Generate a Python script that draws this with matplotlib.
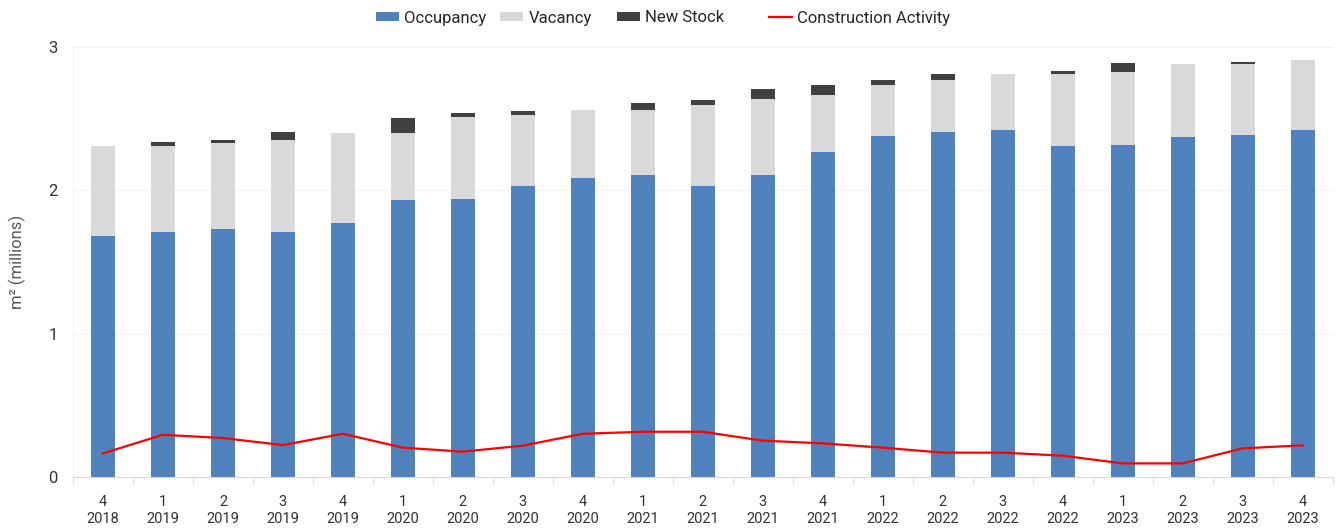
import matplotlib
matplotlib.use("Agg")
import matplotlib.pyplot as plt
from matplotlib.patches import Patch
from matplotlib.lines import Line2D
import numpy as np

quarters = ["4", "1", "2", "3", "4", "1", "2", "3", "4", "1", "2", "3", "4",
            "1", "2", "3", "4", "1", "2", "3", "4"]
years = ["2018", "2019", "2019", "2019", "2019", "2020", "2020", "2020", "2020",
         "2021", "2021", "2021", "2021", "2022", "2022", "2022", "2022",
         "2023", "2023", "2023", "2023"]
occupancy = [1.68, 1.71, 1.73, 1.71, 1.77, 1.93, 1.94, 2.03, 2.09, 2.11, 2.03,
             2.11, 2.27, 2.38, 2.41, 2.42, 2.31, 2.32, 2.37, 2.39, 2.42]
vacancy = [0.63, 0.60, 0.60, 0.64, 0.63, 0.47, 0.57, 0.50, 0.47, 0.45, 0.57,
           0.53, 0.40, 0.36, 0.36, 0.39, 0.50, 0.51, 0.51, 0.49, 0.49]
new_stock = [0.0, 0.03, 0.025, 0.055, 0.0, 0.105, 0.03, 0.025, 0.0, 0.05, 0.035,
             0.07, 0.07, 0.03, 0.045, 0.0, 0.025, 0.06, 0.0, 0.02, 0.0]
construction = [0.163, 0.293, 0.270, 0.221, 0.300, 0.203, 0.175, 0.217, 0.300,
                0.314, 0.314, 0.252, 0.233, 0.203, 0.168, 0.168, 0.147, 0.093,
                0.093, 0.198, 0.219]

plt.rcParams['font.family'] = ['Roboto', 'DejaVu Sans']

c_occ = "#4f81bd"
c_vac = "#d9d9d9"
c_new = "#404040"
c_con = "#ff0000"

fig = plt.figure(figsize=(13.4, 5.28), dpi=100)
ax = fig.add_axes([73/1340, 1-476.7/528, (1332.5-73)/1340, (476.7-47.3)/528])

x = np.arange(len(quarters))
occ = np.array(occupancy)
vac = np.array(vacancy)
new = np.array(new_stock)
w = 0.4
ax.bar(x, occ, width=w, color=c_occ, zorder=2)
ax.bar(x, vac, width=w, bottom=occ, color=c_vac, zorder=2)
ax.bar(x, new, width=w, bottom=occ + vac, color=c_new, zorder=2)
ax.plot(x, construction, color=c_con, lw=1.6, zorder=3)

ax.set_xlim(-0.5, len(quarters) - 0.5)
ax.set_ylim(0, 3)
ax.set_yticks([0, 1, 2, 3])
ax.set_yticklabels(["0", "1", "2", "3"])
ax.set_xticks(x)
ax.set_xticklabels([f"{q}\n{y}" for q, y in zip(quarters, years)],
                   linespacing=1.3)
ax.set_xticks(np.arange(-0.5, len(quarters)), minor=True)
ax.tick_params(axis='x', which='major', length=0, pad=13, labelsize=10.5,
               colors="#333333")
ax.tick_params(axis='x', which='minor', length=5, color="#d9d9d9")
ax.tick_params(axis='y', length=0, pad=11, labelsize=12, colors="#333333")
ax.grid(axis='y', color="#f2f2f2", lw=0.8, zorder=0)
for s in ["top", "right"]:
    ax.spines[s].set_visible(False)
ax.spines["left"].set_color("#f0f0f0")
ax.spines["bottom"].set_color("#d9d9d9")
ax.set_ylabel("m² (millions)", fontsize=12, color="#595959", labelpad=16)

fs = 12
items = [
    (Patch(facecolor=c_occ), "Occupancy", 376),
    (Patch(facecolor=c_vac), "Vacancy", 500),
    (Patch(facecolor=c_new), "New Stock", 617),
    (Line2D([0], [0], color=c_con, lw=1.6), "Construction Activity", 769),
]
for h, lab, px in items:
    lg = fig.legend([h], [lab], loc="center left",
                    bbox_to_anchor=(px/1340, 1-18/528), frameon=False,
                    fontsize=fs, handlelength=1.4, handleheight=0.5,
                    handletextpad=0.3, borderpad=0, borderaxespad=0)
    for t in lg.get_texts():
        t.set_color("#262626")

fig.savefig("out.png", dpi=100)
